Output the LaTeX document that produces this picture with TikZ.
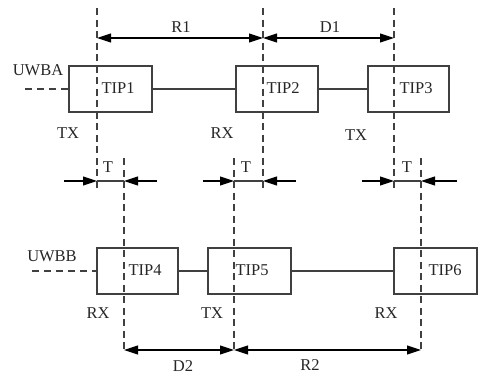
\documentclass[tikz,border=0pt]{standalone}
\usepackage{fontspec}
\setmainfont{Liberation Serif}
\usetikzlibrary{arrows.meta}
\begin{document}
\begin{tikzpicture}[x=1pt,y=-1pt,
  every node/.style={font=\fontsize{16.5}{18}\selectfont, inner sep=0pt, text=black!85},
  tipbox/.style={draw=black!75, line width=1.1pt, minimum height=46pt, rectangle},
  guide/.style={draw=black!75, line width=1.1pt, dash pattern=on 7pt off 4.5pt},
  feed/.style={draw=black!75, line width=1.1pt, dash pattern=on 7pt off 5pt},
  link/.style={draw=black!75, line width=1.1pt},
  span/.style={draw=black, line width=1.1pt, {Triangle[length=14pt,width=9pt]}-{Triangle[length=14pt,width=9pt]}},
  tip/.style={draw=black, line width=1.1pt, -{Triangle[length=14pt,width=9pt]}}
]
\useasboundingbox (0,0) rectangle (485,375);

% upper time marks
\coordinate (a1) at (97,8);   \coordinate (a1b) at (97,190);
\coordinate (a2) at (263,8);  \coordinate (a2b) at (263,190);
\coordinate (a3) at (394,8);  \coordinate (a3b) at (394,190);
% lower time marks
\coordinate (b1) at (124,158); \coordinate (b1b) at (124,350);
\coordinate (b2) at (234,158); \coordinate (b2b) at (234,350);
\coordinate (b3) at (421,158); \coordinate (b3b) at (421,350);

\foreach \p in {a1,a2,a3,b1,b2,b3} \draw[guide] (\p) -- (\p b);

% UWB A chain
\node[tipbox, minimum width=83pt] (t1) at (110.5,89) {};
\node[tipbox, minimum width=82pt] (t2) at (277,89) {};
\node[tipbox, minimum width=81pt] (t3) at (408.5,89) {};
\draw[link] (t1.east) -- (t2.west);
\draw[link] (t2.east) -- (t3.west);
\coordinate (ua) at (25,89);
\draw[feed] (ua) -- (t1.west);
\node (lt1) at (118,88) {TIP1};
\node (lt2) at (283,88) {TIP2};
\node (lt3) at (416,88) {TIP3};
\node (uwba) at (38,70) {UWBA};
\node (tx1) at (68,133) {TX};
\node (rx2) at (222,133) {RX};
\node (tx3) at (356,135) {TX};

% UWB B chain
\node[tipbox, minimum width=81pt] (t4) at (137.5,271) {};
\node[tipbox, minimum width=83pt] (t5) at (249.5,271) {};
\node[tipbox, minimum width=83pt] (t6) at (435.5,271) {};
\draw[link] (t4.east) -- (t5.west);
\draw[link] (t5.east) -- (t6.west);
\coordinate (ub) at (32,271);
\draw[feed] (ub) -- (t4.west);
\node (lt4) at (145,270) {TIP4};
\node (lt5) at (252,270) {TIP5};
\node (lt6) at (445,270) {TIP6};
\node (uwbb) at (52,256) {UWBB};
\node (rx4) at (98,313) {RX};
\node (tx5) at (212,313) {TX};
\node (rx6) at (386,313) {RX};

% intervals between marks
\coordinate (r1a) at (97,38);  \coordinate (r1b) at (263,38);
\coordinate (d1b) at (394,38);
\draw[span] (r1a) -- (r1b);
\draw[span] (r1b) -- (d1b);
\node (r1) at (181,27) {R1};
\node (d1) at (330,27) {D1};

\coordinate (d2a) at (124,350); \coordinate (d2b) at (234,350);
\coordinate (r2b) at (421,350);
\draw[span] (d2a) -- (d2b);
\draw[span] (d2b) -- (r2b);
\node (d2) at (183,366) {D2};
\node (r2) at (310,365) {R2};

% delay T between the two rows
\foreach \l/\r/\s/\e/\n in {97/124/64/157/1, 263/234/203/296/2, 394/421/362/457/3}{
  \coordinate (p\n) at (\l,181); \coordinate (q\n) at (\r,181);
  \coordinate (ps\n) at (\s,181); \coordinate (qs\n) at (\e,181);
}
\draw[tip] (ps1) -- (p1); \draw[link] (p1) -- (q1); \draw[tip] (qs1) -- (q1);
\draw[tip] (ps2) -- (q2); \draw[link] (q2) -- (p2); \draw[tip] (qs2) -- (p2);
\draw[tip] (ps3) -- (p3); \draw[link] (p3) -- (q3); \draw[tip] (qs3) -- (q3);
\node (tt1) at (108,167) {T};
\node (tt2) at (246,167) {T};
\node (tt3) at (407,167) {T};
\end{tikzpicture}
\end{document}
